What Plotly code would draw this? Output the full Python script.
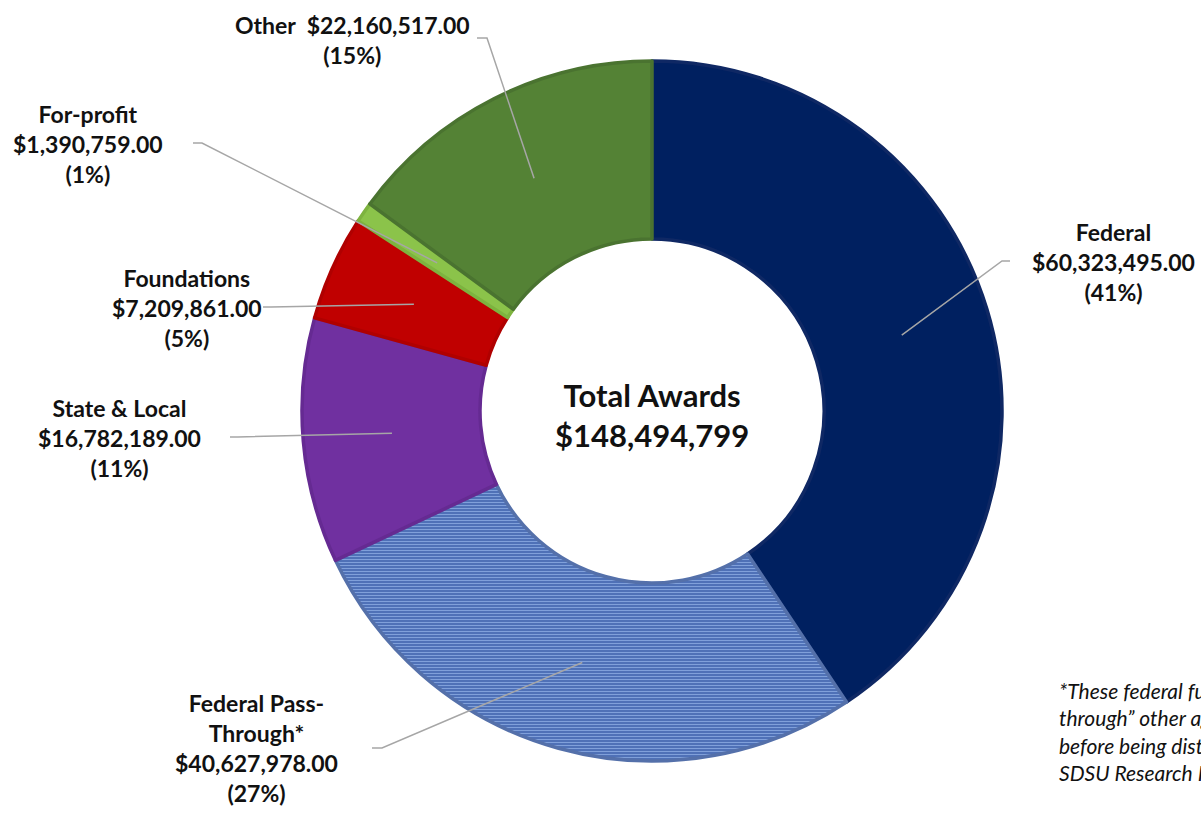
import math
import plotly.graph_objects as go

# ---- data ----
categories = ["Federal", "Federal Pass-Through*", "State & Local", "Foundations", "For-profit", "Other"]
label_names = ["Federal", "Federal Pass-<br>Through*", "State & Local", "Foundations", "For-profit", "Other"]
values = [60323495.00, 40627978.00, 16782189.00, 7209861.00, 1390759.00, 22160517.00]
center_title = "Total Awards"
footnote_lines = ["*These federal funds are \u201cpassed-",
                  "through\u201d other agencies/institutions",
                  "before being distributed to",
                  "SDSU Research Foundation"]

# ---- styles ----
colors = ["#002060", "#5e80c4", "#7030a0", "#c00000", "#8bc34a", "#548235"]
rim_colors = ["#0f2864", "#5470aa", "#652a92", "#b00000", "#7db33f", "#4a7330"]
W, H = 1201, 813
CX, CY, R_OUT, R_IN = 652, 411, 350, 172

def px(x, y):
    return x / W, 1 - y / H

total = sum(values)

fig = go.Figure()
fig.add_trace(go.Pie(
    labels=categories, values=values, sort=False, direction="clockwise", rotation=0,
    hole=R_IN / R_OUT, textinfo="none", hoverinfo="skip", showlegend=False,
    domain=dict(x=[(CX - R_OUT) / W, (CX + R_OUT) / W],
                y=[1 - (CY + R_OUT) / H, 1 - (CY - R_OUT) / H]),
    marker=dict(
        colors=colors,
        line=dict(color=rim_colors, width=3.5),
        pattern=dict(shape=["", "-", "", "", "", ""],
                     bgcolor=[colors[0], "#4a6cb3", colors[2], colors[3], colors[4], colors[5]],
                     fgcolor=[colors[0], "#80a0da", colors[2], colors[3], colors[4], colors[5]],
                     size=3, solidity=0.4, fillmode="replace"),
    ),
))

# label text positions (pixel layout) and leader-line start points
label_pos = [(1113, 262), (256, 748), (119, 438), (187, 308), (88, 144), (352, 40)]
leader_start = [((1010, 261), (1002, 261)),
                ((372, 748), (382, 748)),
                ((230, 437), (238, 437)),
                ((263, 307), (271, 307)),
                ((193, 143), (202, 143)),
                ((477, 38), (487, 38))]

annotations = []
shapes = []
cum = 0.0
for i, (name, v) in enumerate(zip(label_names, values)):
    pct = round(v / total * 100)
    if categories[i] == "Other":
        txt = f"{name}\u00a0 ${v:,.2f}<br>({pct}%)"
    else:
        txt = f"{name}<br>${v:,.2f}<br>({pct}%)"
    lx, ly = px(*label_pos[i])
    annotations.append(dict(x=lx, y=ly, xref="paper", yref="paper", text=txt, showarrow=False,
                            xanchor="center", yanchor="middle", align="center",
                            font=dict(family="Lato", size=23, color="#111111", weight="bold")))
    mid = (cum + v / 2) / total * 2 * math.pi
    cum += v
    rm = (R_IN + R_OUT) / 2
    ex, ey = CX + rm * math.sin(mid), CY - rm * math.cos(mid)
    (sx, sy), (bx, by) = leader_start[i]
    p0, p1, p2 = px(sx, sy), px(bx, by), px(ex, ey)
    shapes.append(dict(type="path", xref="paper", yref="paper",
                       path=f"M {p0[0]},{p0[1]} L {p1[0]},{p1[1]} L {p2[0]},{p2[1]}",
                       line=dict(color="#a6a6a6", width=1.5)))

cx, cy = px(CX, CY + 4)
annotations.append(dict(x=cx, y=cy, xref="paper", yref="paper",
                        text=f"{center_title}<br>${total:,.0f}", showarrow=False,
                        xanchor="center", yanchor="middle", align="center",
                        font=dict(family="Lato", size=31, color="#111111", weight="bold")))

fx, fy = px(1057, 731)
annotations.append(dict(x=fx, y=fy, xref="paper", yref="paper",
                        text="<br>".join(f"<i>{l}</i>" for l in footnote_lines), showarrow=False,
                        xanchor="left", yanchor="middle", align="left",
                        font=dict(family="Lato", size=21, color="#111111")))

fig.update_layout(width=W, height=H, margin=dict(l=0, r=0, t=0, b=0),
                  paper_bgcolor="white", plot_bgcolor="white",
                  annotations=annotations, shapes=shapes)

fig.write_html("out.html", config={"displayModeBar": False},
               post_script="document.body.style.margin='0';document.body.style.overflow='hidden';")
